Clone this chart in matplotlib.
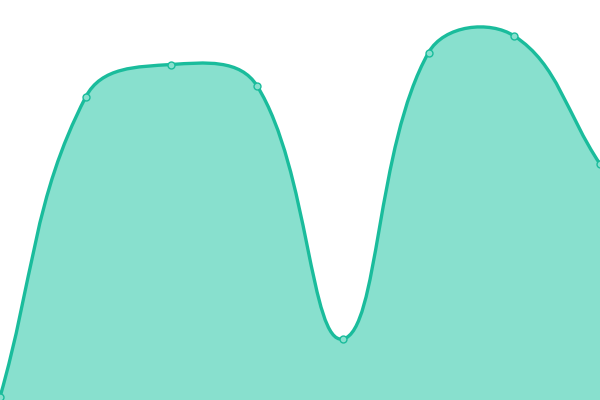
import numpy as np
import matplotlib
matplotlib.use("Agg")
import matplotlib.pyplot as plt
from matplotlib.path import Path
from matplotlib.patches import PathPatch

# data
labels = ['A', 'B', 'C', 'D', 'E', 'F', 'G', 'H']
values = [3, 303, 335.5, 314, 61, 347.5, 364, 236]

line_color = '#1abc9c'
fill_color = '#88e0ce'
tension = 0.4

fig = plt.figure(figsize=(6, 4), dpi=100)
ax = fig.add_axes([0, 0, 1, 1])
ax.set_xlim(0, 600)
ax.set_ylim(0, 400)
ax.axis('off')

step = 600 / (len(values) - 1)
xs = np.arange(len(values)) * step
ys = np.array(values, dtype=float)

# chart.js style spline control points
pts = np.column_stack([xs, ys])
n = len(pts)
c_prev = pts.copy()
c_next = pts.copy()
for i in range(n):
    p0 = pts[max(i - 1, 0)]
    p1 = pts[i]
    p2 = pts[min(i + 1, n - 1)]
    d01 = np.hypot(*(p1 - p0))
    d12 = np.hypot(*(p2 - p1))
    tot = d01 + d12
    s01 = d01 / tot if tot else 0
    s12 = d12 / tot if tot else 0
    c_prev[i] = p1 - tension * s01 * (p2 - p0)
    c_next[i] = p1 + tension * s12 * (p2 - p0)

verts = [tuple(pts[0])]
codes = [Path.MOVETO]
for i in range(n - 1):
    verts += [tuple(c_next[i]), tuple(c_prev[i + 1]), tuple(pts[i + 1])]
    codes += [Path.CURVE4] * 3

fill_verts = verts + [(xs[-1], 0), (xs[0], 0), verts[0]]
fill_codes = codes + [Path.LINETO, Path.LINETO, Path.CLOSEPOLY]

ax.add_patch(PathPatch(Path(fill_verts, fill_codes), facecolor=fill_color, edgecolor='none'))
ax.add_patch(PathPatch(Path(verts, codes), facecolor='none', edgecolor=line_color, lw=2.4,
                       capstyle='round', joinstyle='round'))
ax.plot(xs, ys, 'o', ms=5, mfc=fill_color, mec=line_color, mew=1, clip_on=True)

fig.savefig('out.png', dpi=100)
